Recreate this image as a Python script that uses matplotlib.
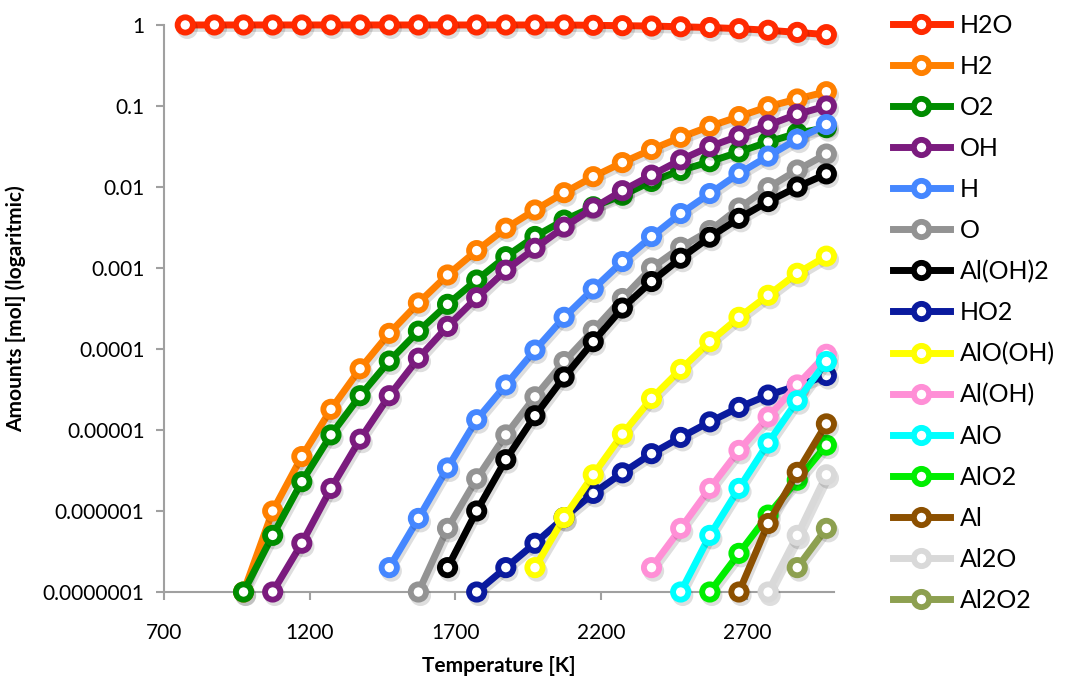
import numpy as np
import matplotlib.pyplot as plt
import matplotlib.patheffects as pe

plt.rcParams['font.family'] = ['Lato', 'DejaVu Sans']

# ==== Data ====
temps = [773 + 100 * i for i in range(23)]  # 773 K ... 2973 K

species = ['H2O', 'H2', 'O2', 'OH', 'H', 'O', 'Al(OH)2', 'HO2', 'AlO(OH)',
           'Al(OH)', 'AlO', 'AlO2', 'Al', 'Al2O', 'Al2O2']
colors = ['#ff2a00', '#ff8000', '#008c00', '#7b1b7e', '#4587ff', '#939393',
          '#000000', '#0a1a9e', '#ffff00', '#ff8fd6', '#00ffff', '#00ee00',
          '#8c5000', '#d9d9d9', '#8da050']

h2o = [1, 1, 1, 1, 1, 1, 1, 1, 1, 1, 1, 1, 1, 1, 0.99, 0.98, 0.97, 0.95,
       0.93, 0.9, 0.86, 0.81, 0.76]
h2 = [1e-7, 1e-6, 4.7e-6, 1.8e-5, 5.7e-5, 1.56e-4, 3.7e-4, 8.2e-4, 1.64e-3,
      3.1e-3, 5.2e-3, 8.5e-3, 0.0134, 0.020, 0.029, 0.041, 0.056, 0.074,
      0.098, 0.122, 0.15]
o2 = [1e-7, 5.0e-7, 2.3e-6, 8.7e-6, 2.65e-5, 7.1e-5, 1.66e-4, 3.56e-4,
      7.1e-4, 1.38e-3, 2.45e-3, 3.9e-3, 5.7e-3, 7.9e-3, 0.0117, 0.016,
      0.0205, 0.027, 0.036, 0.046, 0.054]
oh = [1e-7, 4.0e-7, 1.9e-6, 7.7e-6, 2.65e-5, 7.7e-5, 1.9e-4, 4.3e-4, 9.4e-4,
      1.75e-3, 3.2e-3, 5.5e-3, 9.0e-3, 0.014, 0.0216, 0.0315, 0.0426, 0.058,
      0.079, 0.1]
h = [2.0e-7, 8.1e-7, 3.4e-6, 1.34e-5, 3.6e-5, 9.7e-5, 2.46e-4, 5.5e-4,
     1.2e-3, 2.44e-3, 4.7e-3, 8.3e-3, 0.0147, 0.024, 0.039, 0.059]
o = [1e-7, 6.1e-7, 2.5e-6, 8.7e-6, 2.57e-5, 7.0e-5, 1.7e-4, 4.2e-4, 1.0e-3,
     1.8e-3, 2.9e-3, 5.5e-3, 0.0098, 0.0162, 0.0255]
aloh2 = [2e-7, 1e-6, 4.3e-6, 1.5e-5, 4.5e-5, 1.23e-4, 3.2e-4, 6.8e-4,
         1.32e-3, 2.4e-3, 4.1e-3, 6.6e-3, 0.01, 0.0145]
ho2 = [1e-7, 2.0e-7, 4.0e-7, 8.3e-7, 1.65e-6, 2.96e-6, 5.1e-6, 8.1e-6,
       1.26e-5, 1.9e-5, 2.7e-5, 3.5e-5, 4.7e-5]
alooh = [2e-7, 8.3e-7, 2.8e-6, 8.9e-6, 2.45e-5, 5.6e-5, 1.23e-4, 2.46e-4,
         4.6e-4, 8.6e-4, 1.4e-3]
aloh = [2e-7, 6.1e-7, 1.9e-6, 5.6e-6, 1.45e-5, 3.6e-5, 8.6e-5]
alo = [1e-7, 5.0e-7, 1.9e-6, 6.9e-6, 2.3e-5, 7.0e-5]
alo2 = [1e-7, 3.0e-7, 8.9e-7, 2.4e-6, 6.5e-6]
al = [1e-7, 7.0e-7, 3.0e-6, 1.19e-5]
al2o = [1e-7, 5.0e-7, 2.8e-6]
al2o2 = [2e-7, 6.1e-7]

series = [h2o, h2, o2, oh, h, o, aloh2, ho2, alooh, aloh, alo, alo2, al,
          al2o, al2o2]

yticks = [1e-7, 1e-6, 1e-5, 1e-4, 1e-3, 1e-2, 1e-1, 1]
ytick_labels = ['0.0000001', '0.000001', '0.00001', '0.0001', '0.001',
                '0.01', '0.1', '1']
xticks = [700, 1200, 1700, 2200, 2700]

# ==== Plot ====
fig = plt.figure(figsize=(10.69, 6.84), dpi=100)
ax = fig.add_axes([0.1534, 0.1345, 0.627, 0.829])

shadow = [pe.SimpleLineShadow(offset=(1.5, -2.5), shadow_color='k',
                              alpha=0.13), pe.Normal()]

for i, (name, vals, col) in enumerate(zip(species, series, colors)):
    x = temps[len(temps) - len(vals):]
    ax.plot(x, vals, color=col, lw=5, marker='o', ms=11, mew=4.2,
            mfc='white', mec=col, label=name, zorder=3 + i,
            clip_on=False, path_effects=shadow)

ax.set_yscale('log')
ax.set_ylim(1e-7, 1)
ax.set_xlim(700, 3000)
ax.set_yticks(yticks)
ax.set_yticklabels(ytick_labels)
ax.yaxis.set_minor_locator(plt.NullLocator())
ax.set_xticks(xticks)

for s in ['top', 'right']:
    ax.spines[s].set_visible(False)
for s in ['left', 'bottom']:
    ax.spines[s].set_color('#a0a0a0')
    ax.spines[s].set_linewidth(1.5)
ax.tick_params(axis='both', colors='#a0a0a0', labelcolor='black',
               labelsize=15, length=6, width=1.5)
ax.tick_params(axis='y', pad=8)
ax.tick_params(axis='x', pad=16)

ax.set_xlabel('Temperature [K]', fontsize=15, fontweight='bold', labelpad=10)
ax.set_ylabel('Amounts [mol] (logaritmic)', fontsize=15, fontweight='bold',
              labelpad=12)

leg = fig.legend(loc='upper left', bbox_to_anchor=(0.835, 0.98),
                 frameon=False, fontsize=18, handlelength=2.3,
                 handletextpad=0.4, labelspacing=0.72, borderpad=0,
                 borderaxespad=0)
for line in leg.get_lines():
    line.set_path_effects([])

fig.savefig('out.png', dpi=100)
